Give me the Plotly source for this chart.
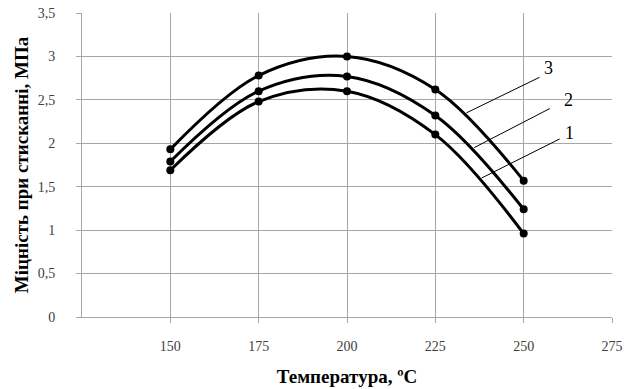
import plotly.graph_objects as go

temps = [150, 175, 200, 225, 250]
series_1 = [1.69, 2.48, 2.60, 2.10, 0.96]
series_2 = [1.79, 2.60, 2.77, 2.32, 1.24]
series_3 = [1.93, 2.78, 3.00, 2.62, 1.57]
x_ticks = [150, 175, 200, 225, 250, 275]
y_ticks = [0, 0.5, 1, 1.5, 2, 2.5, 3, 3.5]
y_ticklabels = ["0", "0,5", "1", "1,5", "2", "2,5", "3", "3,5"]
labels = ["1", "2", "3"]
# leader lines: (x0, y0, x1, y1) and text positions (data coords)
leader_lines = [(238.1, 1.60, 260.2, 2.05), (236.0, 1.95, 257.4, 2.40), (233.8, 2.35, 254.5, 2.76)]
label_pos = [(263.1, 2.12), (262.8, 2.50), (257.1, 2.87)]

fig = go.Figure()
for ys in (series_1, series_2, series_3):
    fig.add_trace(go.Scatter(
        x=temps, y=ys, mode="lines+markers",
        line=dict(color="black", width=3, shape="spline", smoothing=1.0),
        marker=dict(color="black", size=8),
        showlegend=False, hoverinfo="skip"))

for (x0, y0, x1, y1) in leader_lines:
    fig.add_shape(type="line", x0=x0, y0=y0, x1=x1, y1=y1, xref="x", yref="y",
                  line=dict(color="black", width=1))
for lab, (tx, ty) in zip(labels, label_pos):
    fig.add_annotation(x=tx, y=ty, text=lab, showarrow=False, xref="x", yref="y",
                       font=dict(family="Liberation Serif", size=18, color="black"))

axis_font = dict(family="Liberation Serif", size=14, color="#404040")
title_font = dict(family="Liberation Serif", size=19, color="black")
fig.update_xaxes(range=[125, 275], tickvals=x_ticks, ticktext=[str(v) for v in x_ticks],
                 showgrid=True, gridcolor="#a6a6a6", gridwidth=1,
                 showline=True, linecolor="#a6a6a6", linewidth=1,
                 ticks="outside", ticklen=5, tickcolor="#a6a6a6",
                 ticklabelstandoff=11, tickfont=axis_font, zeroline=False, automargin=False,
                 title=dict(text="<b>Температура, ºС</b>", standoff=16, font=title_font))
fig.update_yaxes(range=[0, 3.5], tickvals=y_ticks, ticktext=y_ticklabels,
                 showgrid=True, gridcolor="#a6a6a6", gridwidth=1,
                 showline=True, linecolor="#a6a6a6", linewidth=1,
                 ticks="outside", ticklen=5, tickcolor="#a6a6a6",
                 ticklabelstandoff=18, tickfont=axis_font, zeroline=False, automargin=False,
                 title=dict(text="<b>Міцність при стисканні, МПа</b>", standoff=4, font=title_font))

fig.update_layout(width=640, height=389, margin=dict(l=82, r=28, t=13, b=72),
                  plot_bgcolor="white", paper_bgcolor="white")
fig.write_html("out.html")
